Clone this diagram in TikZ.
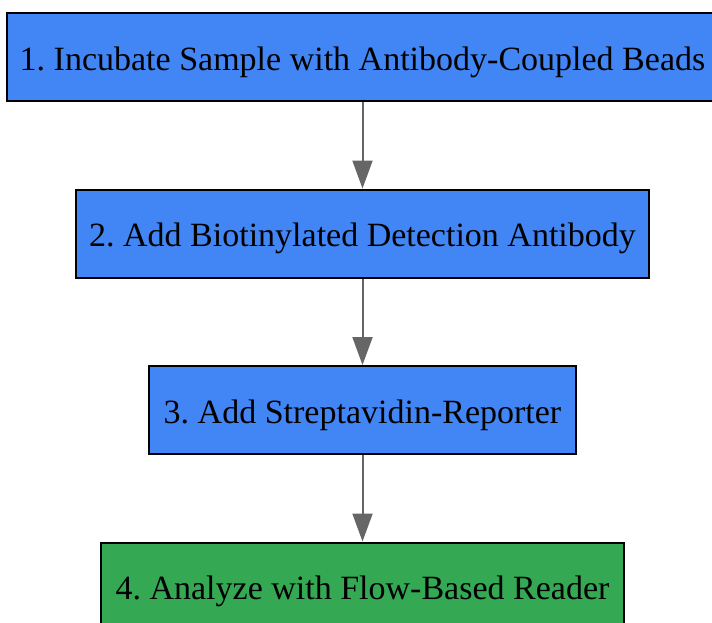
\documentclass[tikz,border=0pt]{standalone}
\usepackage{fontspec}
\setmainfont{Liberation Serif}
\frenchspacing
\usetikzlibrary{positioning,arrows.meta}
\definecolor{stepblue}{HTML}{4285F4}
\definecolor{stepgreen}{HTML}{34A853}
\definecolor{flowgray}{HTML}{666666}
\tikzset{stepbox/.style={draw=black,line width=2pt,fill=stepblue,minimum height=88pt,
inner sep=0pt,text height=26pt,text depth=0pt,font=\fontsize{34}{40}\selectfont},
lastbox/.style={stepbox,fill=stepgreen},
flow/.style={draw=flowgray,line width=2pt,-{Triangle[length=28pt,width=20pt]}}}
\begin{document}
\begin{tikzpicture}[x=1pt,y=1pt,node distance=86.5pt]
\useasboundingbox (0,0) rectangle (712,-622);
\clip (0,0) rectangle (712,-622);
\node[stepbox,minimum width=712pt] (s1) at (362.5,-57) {1. Incubate Sample with Antibody-Coupled Beads};
\node[stepbox,minimum width=573pt,below=of s1] (s2) {2. Add Biotinylated Detection Antibody};
\node[stepbox,minimum width=427pt,below=of s2] (s3) {3. Add Streptavidin-Reporter};
\node[lastbox,minimum width=523pt,below=of s3] (s4) {4. Analyze with Flow-Based Reader};
\draw[flow] (s1) -- (s2);
\draw[flow] (s2) -- (s3);
\draw[flow] (s3) -- (s4);
\end{tikzpicture}
\end{document}
